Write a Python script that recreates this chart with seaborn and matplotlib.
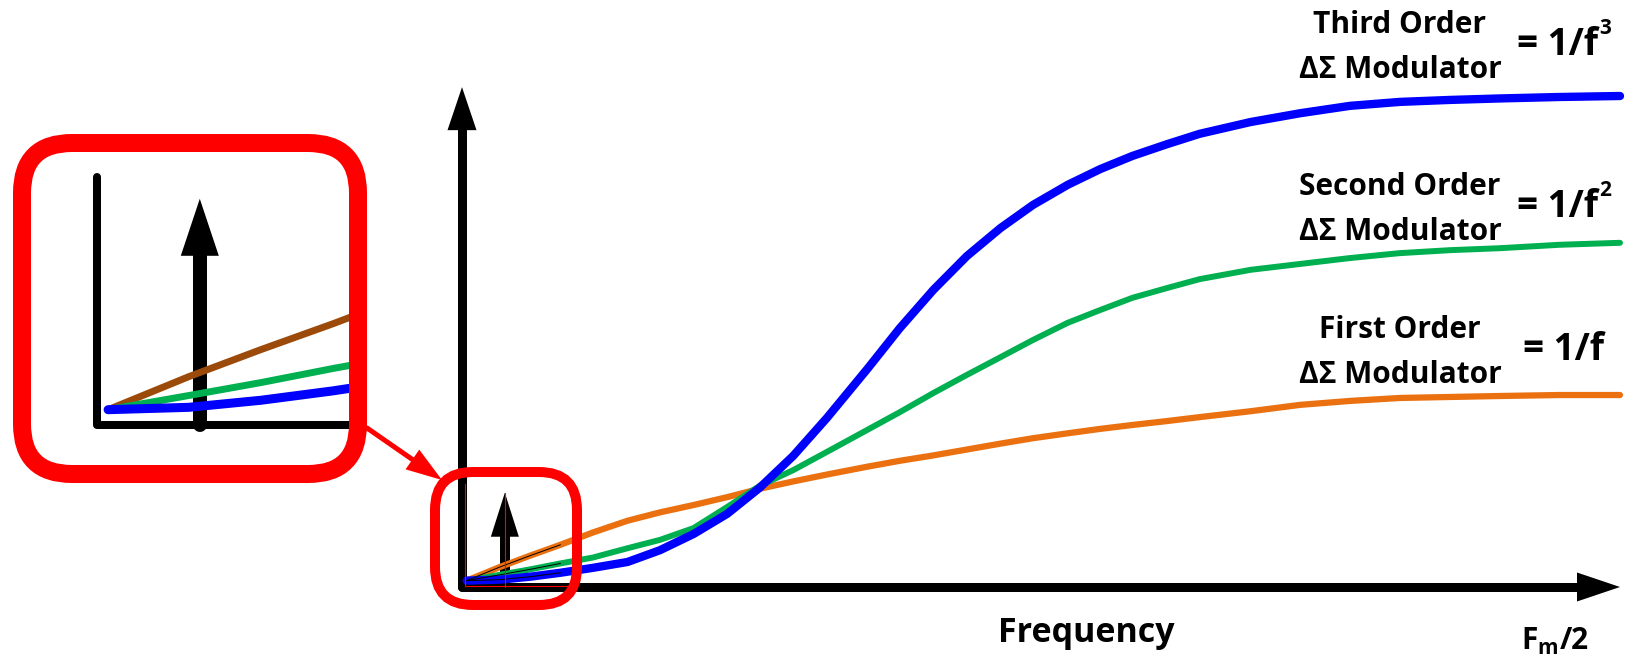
import numpy as np
import matplotlib
matplotlib.use("Agg")
import matplotlib.pyplot as plt
from matplotlib.patches import FancyBboxPatch, Polygon
import seaborn as sns

# Noise shaping of delta-sigma modulators
# frequency: 0 = DC, 100 = Fm/2 ; noise: 0..100 relative level
freq = [0.4, 3.3, 5.9, 8.5, 11.3, 14.3, 17.1, 20.0, 22.9, 25.7, 28.6, 31.5,
        35.0, 37.8, 40.7, 43.6, 46.5, 49.3, 52.3, 55.1, 57.9, 60.9, 63.7,
        68.1, 72.4, 76.7, 81.0, 85.3, 89.6, 94.8, 100.0]
noise_3rd = [1.3, 1.5, 2.1, 2.9, 3.9, 5.1, 7.5, 10.8, 14.9, 20.2, 26.7, 34.4,
             44.4, 52.7, 60.5, 67.4, 73.1, 77.8, 81.9, 85.1, 87.8, 90.2, 92.3,
             94.7, 96.5, 98.0, 98.8, 99.2, 99.5, 99.8, 100.0]
noise_2nd = [1.3, 2.5, 3.6, 4.8, 6.0, 7.9, 9.6, 12.0, 16.3, 20.6, 23.8, 27.5,
             32.0, 35.6, 39.5, 43.2, 46.8, 50.3, 53.8, 56.4, 58.9, 60.9, 62.7,
             64.6, 65.8, 67.0, 68.0, 68.6, 69.0, 69.7, 70.1]
noise_1st = [1.3, 4.1, 6.4, 8.6, 11.1, 13.5, 15.2, 16.7, 18.3, 20.0, 21.5, 22.9,
             24.5, 25.7, 26.8, 28.0, 29.2, 30.3, 31.3, 32.2, 33.0, 33.8, 34.6,
             35.8, 37.1, 37.9, 38.5, 38.7, 38.9, 39.1, 39.1]

# input tone (the small arrow) and the zoomed window shown in the inset
tone_freq = 3.7
tone_level = 19.2
zoom_x = 9.07
zoom_y = 21.05

order_names = ["Third Order", "Second Order", "First Order"]
order_powers = ["3", "2", ""]

W_PX, H_PX = 1633, 671

sns.set_theme(style="white")
plt.rcParams["font.family"] = ["Open Sans", "DejaVu Sans"]
plt.rcParams["mathtext.fontset"] = "custom"
plt.rcParams["mathtext.rm"] = "Open Sans:bold"

fig = plt.figure(figsize=(W_PX / 100, H_PX / 100), dpi=100)
fig.patch.set_facecolor("white")


def pt(px):
    return px * 0.72


def to_px(a, x, y):
    X, Y = a.transData.transform((x, y))
    return X, H_PX - Y


def arrow(a, p0, p1, shaft, head_w, head_l, color):
    p0 = np.array(p0, float)
    p1 = np.array(p1, float)
    d = (p1 - p0) / np.hypot(*(p1 - p0))
    n = np.array([-d[1], d[0]])
    base = p1 - d * head_l
    a.plot([p0[0], base[0] + d[0] * 2], [p0[1], base[1] + d[1] * 2],
           color=color, lw=pt(shaft), solid_capstyle="round")
    a.add_patch(Polygon([p1, base + n * head_w / 2, base - n * head_w / 2],
                        closed=True, fc=color, ec="none"))


def canvas(z):
    c = fig.add_axes([0, 0, 1, 1])
    c.set_xlim(0, W_PX)
    c.set_ylim(H_PX, 0)
    c.set_axis_off()
    c.set_zorder(z)
    return c


# layers: arrows below, curves in the middle, boxes and text on top
bottom = canvas(0)
top = canvas(5)

# main chart
ax = fig.add_axes([462 / W_PX, (H_PX - 587) / H_PX, 1158 / W_PX, 491 / H_PX])
ax.set_xlim(0, 100)
ax.set_ylim(0, 100)
ax.set_axis_off()
ax.set_zorder(2)

sns.lineplot(x=freq, y=noise_1st, ax=ax, color="#EA7010", lw=4.5,
             solid_capstyle="round", clip_on=False)
sns.lineplot(x=freq, y=noise_2nd, ax=ax, color="#00B050", lw=4.3,
             solid_capstyle="round", clip_on=False)
sns.lineplot(x=freq, y=noise_3rd, ax=ax, color="#0000FF", lw=6,
             solid_capstyle="round", clip_on=False)

# thin traces of the zoom window
near = [i for i, f in enumerate(freq) if f <= zoom_x]
for ys in (noise_1st, noise_2nd, noise_3rd):
    ax.plot([freq[i] for i in near], [ys[i] for i in near], color="black",
            lw=0.7, clip_on=False)
ax.plot([0.3, 0.3, zoom_x + 0.4], [zoom_y, 0.3, 0.3], color="red", lw=0.8,
        clip_on=False)
ax.plot([tone_freq, tone_freq], [0, tone_level], color="red", lw=0.8,
        clip_on=False)

# inset (magnified view near DC)
ins = fig.add_axes([97 / W_PX, (H_PX - 425) / H_PX, 252 / W_PX, 248 / H_PX])
ins.set_xlim(0, zoom_x)
ins.set_ylim(0, zoom_y)
ins.set_axis_off()
ins.set_zorder(2)
sns.lineplot(x=freq, y=noise_1st, ax=ins, color="#9C4A0A", lw=5,
             solid_capstyle="round")
sns.lineplot(x=freq, y=noise_2nd, ax=ins, color="#00B050", lw=5,
             solid_capstyle="round")
sns.lineplot(x=freq, y=noise_3rd, ax=ins, color="#0000FF", lw=6.5,
             solid_capstyle="round")

# axes arrows
o = to_px(ax, 0, 0)
arrow(bottom, o, to_px(ax, 0, 101.8), 9, 29, 43, "black")
arrow(bottom, o, to_px(ax, 100, 0), 9, 29, 43, "black")
arrow(bottom, to_px(ax, tone_freq, 0), to_px(ax, tone_freq, tone_level),
      10, 28, 44, "black")

# inset frame and tone
io = to_px(ins, 0, 0)
it = to_px(ins, 0, zoom_y)
ir = to_px(ins, zoom_x, 0)
bottom.plot([it[0], io[0], ir[0]], [it[1], io[1], ir[1]], color="black",
            lw=pt(8), solid_capstyle="round", solid_joinstyle="round")
arrow(bottom, to_px(ins, tone_freq, 0), to_px(ins, tone_freq, tone_level),
      14, 38, 57, "black")

# red boxes and connector
top.add_patch(FancyBboxPatch((22, 143), 336, 331,
                             boxstyle="round,pad=0,rounding_size=50",
                             fc="none", ec="#FF0000", lw=pt(18)))
top.add_patch(FancyBboxPatch((435, 472), 142, 133,
                             boxstyle="round,pad=0,rounding_size=38",
                             fc="none", ec="#FF0000", lw=pt(10)))
arrow(top, (367, 428), (442, 480), 5, 24, 36, "#FF0000")

# labels
txt = dict(color="black", fontweight="bold", va="baseline")
label_base = [33, 195, 338]
formula_base = [55, 217, 360]
formula_x = [1517, 1517, 1523]
for name, power, yb, yf, xf in zip(order_names, order_powers,
                                   label_base, formula_base, formula_x):
    top.text(1400, yb, name, ha="center", fontsize=21.5, **txt)
    top.text(1400, yb + 45, "ΔΣ Modulator", ha="center", fontsize=21.5, **txt)
    f_txt = top.text(xf, yf, "= 1/f", ha="left", fontsize=26.5, **txt)
    if power:
        top.annotate(power, xy=(1, 0), xycoords=f_txt, xytext=(1, 30),
                     textcoords="offset pixels", ha="left", va="baseline",
                     fontsize=15, fontweight="bold", color="black")

top.text(1086, 642, "Frequency", ha="center", fontsize=24.5, **txt)
top.text(1555, 650, r"F$_\mathrm{m}$/2", ha="center", fontsize=21.5, **txt)

fig.savefig("out.png", dpi=100)
